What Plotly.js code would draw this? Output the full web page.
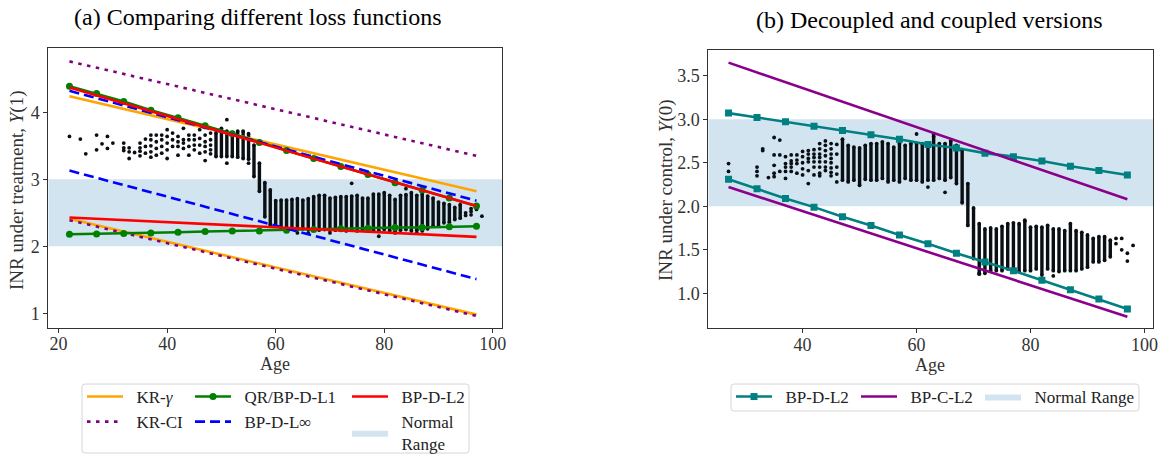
<!DOCTYPE html>
<html>
<head>
<meta charset="utf-8">
<script src="https://cdn.plot.ly/plotly-3.0.1.min.js"></script>
<style>html,body{margin:0;padding:0;background:#fff;}#chart{width:1170px;height:455px;}</style>
</head>
<body>
<div id="chart"></div>
<script>
// ---------------- DATA ----------------
// Panel (a): INR under treatment, Y(1)
const AGE_A = [22, 97];
const KRG_HI = [4.24, 2.82];
const KRG_LO = [2.41, 0.98];
const KRCI_HI = [4.76, 3.35];
const KRCI_LO = [2.39, 0.96];
const LINF_HI = [4.32, 2.68];
const LINF_LO = [3.13, 1.51];
const L2_HI = [4.37, 2.60];
const L2_LO = [2.43, 2.14];
const AGE_QR = [22, 27, 32, 37, 42, 47, 52, 57, 62, 67, 72, 77, 82, 87, 92, 97];
const QR_HI = [4.39, 4.28, 4.16, 4.03, 3.92, 3.80, 3.68, 3.55, 3.43, 3.31, 3.19, 3.07, 2.95, 2.84, 2.72, 2.60];
const QR_LO = [2.18, 2.185, 2.19, 2.20, 2.21, 2.22, 2.23, 2.23, 2.24, 2.25, 2.26, 2.27, 2.28, 2.28, 2.29, 2.30];

// Panel (a) observations: dense columns (age, low, high) and single points
const DENSE_A_AGE = [49,50,51,52,53,54,55,56,57,58,59,60,61,62,63,64,65,66,67,68,69,70,71,72,73,74,75,76,77,78,79,80,81,82,83,84,85,86,87,88,89,90,91,92,93,94];
const DENSE_A_LO = [3.34,3.34,3.34,3.34,3.33,3.31,3.30,3.04,2.82,2.44,2.32,2.30,2.28,2.27,2.26,2.25,2.26,2.25,2.24,2.24,2.25,2.24,2.24,2.24,2.23,2.24,2.23,2.24,2.23,2.24,2.23,2.25,2.23,2.22,2.24,2.25,2.23,2.24,2.23,2.26,2.30,2.30,2.35,2.36,2.40,2.42];
const DENSE_A_HI = [3.69,3.76,3.72,3.70,3.72,3.72,3.68,3.51,3.24,2.95,2.84,2.68,2.69,2.69,2.70,2.71,2.69,2.71,2.74,2.76,2.76,2.72,2.73,2.74,2.74,2.75,2.76,2.72,2.72,2.78,2.78,2.80,2.76,2.70,2.76,2.77,2.80,2.76,2.78,2.75,2.72,2.66,2.64,2.62,2.58,2.62];
const PTS_A_AGE = [22,24,25,27,27,28,29,29,30,32,32,32,33,33,33,34,35,35,35,35,36,36,36,37,37,37,37,37,38,38,38,38,39,39,39,39,40,40,40,40,40,41,41,41,42,42,42,42,43,43,43,43,44,44,44,44,45,45,45,45,46,46,46,46,47,47,47,47,47,48,48,48,48,48,51,51,55,74,84,79,64,66,70,82,86,95,95,96,96,96,97,98];
const PTS_A_INR = [3.64,3.60,3.38,3.66,3.44,3.53,3.64,3.46,3.54,3.54,3.47,3.43,3.47,3.41,3.31,3.40,3.54,3.47,3.42,3.35,3.60,3.49,3.39,3.66,3.59,3.50,3.41,3.33,3.66,3.56,3.46,3.36,3.66,3.59,3.49,3.39,3.74,3.64,3.54,3.44,3.31,3.69,3.59,3.49,3.64,3.56,3.49,3.36,3.76,3.59,3.54,3.46,3.66,3.59,3.49,3.36,3.66,3.59,3.51,3.44,3.74,3.61,3.51,3.39,3.66,3.56,3.49,3.41,3.28,3.69,3.59,3.51,3.44,3.38,3.89,3.24,3.24,2.94,2.86,2.15,2.20,2.20,2.20,2.20,2.20,2.46,2.50,2.47,2.52,2.56,2.55,2.45];

// Panel (b): INR under control, Y(0)
const AGE_B5 = [27, 32, 37, 42, 47, 52, 57, 62, 67, 72, 77, 82, 87, 92, 97];
const DL2_HI = [3.07, 3.02, 2.97, 2.92, 2.87, 2.82, 2.77, 2.71, 2.67, 2.61, 2.57, 2.52, 2.46, 2.41, 2.36];
const DL2_LO = [2.31, 2.20, 2.09, 1.99, 1.88, 1.78, 1.67, 1.57, 1.46, 1.36, 1.26, 1.15, 1.04, 0.935, 0.82];
const AGE_B = [27, 97];
const CL2_HI = [3.65, 2.08];
const CL2_LO = [2.22, 0.73];

const DENSE_B_AGE = [47,48,49,50,51,52,53,54,55,56,57,58,59,60,61,62,63,64,65,66,67,68,69,70,71,72,73,74,75,76,77,78,79,80,81,82,83,84,85,86,87,88,89,90,91,92,93,94];
const DENSE_B_LO = [2.30,2.28,2.30,2.24,2.31,2.30,2.30,2.32,2.28,2.30,2.28,2.32,2.30,2.30,2.28,2.30,2.30,2.32,2.30,2.33,2.26,2.04,1.78,1.40,1.23,1.25,1.26,1.26,1.26,1.28,1.25,1.25,1.26,1.26,1.28,1.21,1.28,1.26,1.25,1.26,1.26,1.26,1.28,1.30,1.36,1.36,1.38,1.42];
const DENSE_B_HI = [2.77,2.70,2.68,2.67,2.70,2.72,2.72,2.74,2.72,2.68,2.72,2.70,2.72,2.72,2.72,2.72,2.80,2.72,2.72,2.75,2.70,2.65,2.26,1.98,1.80,1.74,1.75,1.74,1.77,1.80,1.81,1.80,1.83,1.76,1.77,1.76,1.78,1.74,1.74,1.72,1.80,1.72,1.70,1.67,1.63,1.65,1.65,1.61];
const PTS_B_AGE = [27,27,32,32,32,33,33,34,35,35,35,35,35,36,36,36,37,37,37,37,37,38,38,38,38,38,39,39,39,39,40,40,40,40,40,41,41,41,41,41,41,42,42,42,42,42,42,43,43,43,43,43,43,43,43,44,44,44,44,44,44,44,45,45,45,45,45,45,45,45,46,46,46,46,46,60,62,65,63,71,72,84,79,95,95,96,96,97,97,98];
const PTS_B_INR = [2.49,2.40,2.45,2.40,2.35,2.66,2.64,2.33,2.79,2.59,2.47,2.38,2.34,2.76,2.59,2.40,2.57,2.49,2.45,2.40,2.32,2.59,2.52,2.49,2.45,2.40,2.59,2.53,2.49,2.38,2.63,2.57,2.50,2.43,2.36,2.64,2.60,2.55,2.51,2.41,2.26,2.65,2.60,2.56,2.51,2.45,2.36,2.72,2.66,2.60,2.56,2.51,2.45,2.38,2.35,2.75,2.70,2.64,2.58,2.51,2.45,2.41,2.72,2.66,2.60,2.55,2.50,2.44,2.39,2.35,2.71,2.60,2.45,2.37,2.28,2.83,2.22,2.16,2.82,1.22,1.23,1.20,1.84,1.63,1.57,1.63,1.50,1.46,1.37,1.55];

const NORMAL_RANGE = [2, 3];
const XRANGE_A = [18.1, 101.7];
const YRANGE_A = [0.785, 4.955];
const XRANGE_B = [23.45, 101.55];
const YRANGE_B = [0.598, 3.795];

// ---------------- STYLE ----------------
const FONT = 'Liberation Serif, Times New Roman, serif';
const BAND = 'rgba(31,119,180,0.2)';
const DOTC = '#0a0f14';
const LW = 2.6;
const SP = '\u2002';

function columns(ages, lo, hi) {
  const x = [], y = [];
  for (let i = 0; i < ages.length; i++) {
    x.push(ages[i], ages[i], null);
    y.push(lo[i], hi[i], null);
  }
  return {x, y};
}
function band(xr, xa, ya, name, legend) {
  return {x: [xr[0], xr[1], xr[1], xr[0]], y: [NORMAL_RANGE[0], NORMAL_RANGE[0], NORMAL_RANGE[1], NORMAL_RANGE[1]],
    xaxis: xa, yaxis: ya, mode: 'lines', fill: 'toself', fillcolor: BAND, line: {width: 0, color: BAND},
    name, legend, showlegend: true, legendrank: 2000, hoverinfo: 'skip'};
}
function ln(x, y, color, dash, name, legend, show, xa, ya, extra) {
  return Object.assign({x, y, xaxis: xa, yaxis: ya, mode: 'lines', name, legend, showlegend: show, legendrank: 1000,
    line: {color, width: LW, dash}}, extra || {});
}

const colA = columns(DENSE_A_AGE, DENSE_A_LO, DENSE_A_HI);
const colB = columns(DENSE_B_AGE, DENSE_B_LO, DENSE_B_HI);

const traces = [
  band(XRANGE_A, 'x', 'y', SP + 'Normal<br>' + SP + 'Range', 'legend3'),
  band(XRANGE_B, 'x2', 'y2', SP + 'Normal Range', 'legend6'),
  // observations
  {x: colA.x, y: colA.y, xaxis: 'x', yaxis: 'y', mode: 'lines+markers', line: {color: DOTC, width: 3.4},
   marker: {color: DOTC, size: 3.8}, showlegend: false, hoverinfo: 'skip'},
  {x: PTS_A_AGE, y: PTS_A_INR, xaxis: 'x', yaxis: 'y', mode: 'markers', marker: {color: DOTC, size: 3.8}, showlegend: false},
  {x: colB.x, y: colB.y, xaxis: 'x2', yaxis: 'y2', mode: 'lines+markers', line: {color: DOTC, width: 3.4},
   marker: {color: DOTC, size: 3.8}, showlegend: false, hoverinfo: 'skip'},
  {x: PTS_B_AGE, y: PTS_B_INR, xaxis: 'x2', yaxis: 'y2', mode: 'markers', marker: {color: DOTC, size: 3.8}, showlegend: false},
  // panel (a) lines
  ln(AGE_A, KRG_HI, '#ffa500', 'solid', SP + 'KR-<i>γ</i>', 'legend', true, 'x', 'y'),
  ln(AGE_A, KRG_LO, '#ffa500', 'solid', SP + 'KR-<i>γ</i>', 'legend', false, 'x', 'y'),
  ln(AGE_A, KRCI_HI, '#800080', '3.5px,5.5px', SP + 'KR-CI', 'legend', true, 'x', 'y'),
  ln(AGE_A, KRCI_LO, '#800080', '3.5px,5.5px', SP + 'KR-CI', 'legend', false, 'x', 'y'),
  ln(AGE_QR, QR_HI, '#008000', 'solid', SP + 'QR/BP-D-L1', 'legend2', true, 'x', 'y', {mode: 'lines+markers', marker: {size: 7, color: '#008000'}}),
  ln(AGE_QR, QR_LO, '#008000', 'solid', SP + 'QR/BP-D-L1', 'legend2', false, 'x', 'y', {mode: 'lines+markers', marker: {size: 7, color: '#008000'}}),
  ln(AGE_A, LINF_HI, '#0000ff', '10px,5px', SP + 'BP-D-L∞', 'legend2', true, 'x', 'y'),
  ln(AGE_A, LINF_LO, '#0000ff', '10px,5px', SP + 'BP-D-L∞', 'legend2', false, 'x', 'y'),
  ln(AGE_A, L2_HI, '#ff0000', 'solid', SP + 'BP-D-L2', 'legend3', true, 'x', 'y'),
  ln(AGE_A, L2_LO, '#ff0000', 'solid', SP + 'BP-D-L2', 'legend3', false, 'x', 'y'),
  // panel (b) lines
  ln(AGE_B5, DL2_HI, '#008080', 'solid', SP + 'BP-D-L2', 'legend4', true, 'x2', 'y2', {mode: 'lines+markers', marker: {size: 7, symbol: 'square', color: '#008080'}}),
  ln(AGE_B5, DL2_LO, '#008080', 'solid', SP + 'BP-D-L2', 'legend4', false, 'x2', 'y2', {mode: 'lines+markers', marker: {size: 7, symbol: 'square', color: '#008080'}}),
  ln(AGE_B, CL2_HI, '#8b008b', 'solid', SP + 'BP-C-L2', 'legend5', true, 'x2', 'y2'),
  ln(AGE_B, CL2_LO, '#8b008b', 'solid', SP + 'BP-C-L2', 'legend5', false, 'x2', 'y2')
];

const W = 1170, H = 455;
function px(x) { return x / W; }
function py(y) { return 1 - y / H; }
function roundRect(x0, y0, x1, y1, r) {
  const rx = r / W, ry = r / H;
  const X0 = px(x0), X1 = px(x1), Y0 = py(y0), Y1 = py(y1);
  return 'M' + (X0 + rx) + ',' + Y0 + ' L' + (X1 - rx) + ',' + Y0 + ' Q' + X1 + ',' + Y0 + ' ' + X1 + ',' + (Y0 - ry) +
    ' L' + X1 + ',' + (Y1 + ry) + ' Q' + X1 + ',' + Y1 + ' ' + (X1 - rx) + ',' + Y1 +
    ' L' + (X0 + rx) + ',' + Y1 + ' Q' + X0 + ',' + Y1 + ' ' + X0 + ',' + (Y1 + ry) +
    ' L' + X0 + ',' + (Y0 - ry) + ' Q' + X0 + ',' + Y0 + ' ' + (X0 + rx) + ',' + Y0 + ' Z';
}

const axisCommon = {showline: true, mirror: true, linecolor: '#333', linewidth: 1, ticks: 'outside', ticklen: 4,
  tickcolor: '#333', tickwidth: 1, showgrid: false, zeroline: false, tickfont: {family: FONT, size: 18, color: '#333'}};
const legCommon = {visible: true, orientation: 'v', xanchor: 'left', yanchor: 'top', bgcolor: 'rgba(0,0,0,0)', borderwidth: 0,
  font: {family: FONT, size: 17, color: '#222'}, itemwidth: 36, tracegroupgap: 0, traceorder: 'normal', y: py(379)};
const TF = {family: FONT, size: 18, color: '#333'};
const TFY = {family: FONT, size: 19, color: '#333'};

const layout = {
  width: W, height: H, margin: {l: 0, r: 0, t: 0, b: 0, autoexpand: false}, paper_bgcolor: '#fff', plot_bgcolor: '#fff',
  font: {family: FONT, size: 17, color: '#333'},
  showlegend: true,
  hovermode: false,
  xaxis: Object.assign({}, axisCommon, {domain: [px(48.3), px(502)], range: XRANGE_A, tickvals: [20, 40, 60, 80, 100], anchor: 'y', ticklabelstandoff: -4}),
  yaxis: Object.assign({}, axisCommon, {domain: [py(327.7), py(48.3)], range: YRANGE_A, tickvals: [1, 2, 3, 4], anchor: 'x'}),
  xaxis2: Object.assign({}, axisCommon, {domain: [px(708.3), px(1153.3)], range: XRANGE_B, tickvals: [40, 60, 80, 100], anchor: 'y2', ticklabelstandoff: -4}),
  yaxis2: Object.assign({}, axisCommon, {domain: [py(328.3), py(50)], range: YRANGE_B, tickvals: [1, 1.5, 2, 2.5, 3, 3.5], tickformat: '.1f', anchor: 'x2'}),
  legend: Object.assign({}, legCommon, {x: px(82)}),
  legend2: Object.assign({}, legCommon, {x: px(190)}),
  legend3: Object.assign({}, legCommon, {x: px(347)}),
  legend4: Object.assign({}, legCommon, {x: px(731)}),
  legend5: Object.assign({}, legCommon, {x: px(856)}),
  legend6: Object.assign({}, legCommon, {x: px(980)}),
  annotations: [
    {text: '(a) Comparing different loss functions', xref: 'paper', yref: 'paper', x: px(257), y: py(17), xanchor: 'center', yanchor: 'middle',
     showarrow: false, font: {family: FONT, size: 24, color: '#000'}},
    {text: '(b) Decoupled and coupled versions', xref: 'paper', yref: 'paper', x: px(929), y: py(20), xanchor: 'center', yanchor: 'middle',
     showarrow: false, font: {family: FONT, size: 24, color: '#000'}},
    {text: 'Age', xref: 'paper', yref: 'paper', x: px(275), y: py(364), xanchor: 'center', yanchor: 'middle', showarrow: false, font: TF},
    {text: 'Age', xref: 'paper', yref: 'paper', x: px(930), y: py(365), xanchor: 'center', yanchor: 'middle', showarrow: false, font: TF},
    {text: 'INR under treatment, <i>Y</i>(1)', xref: 'paper', yref: 'paper', x: px(17), y: py(191), xanchor: 'center', yanchor: 'middle',
     textangle: -90, showarrow: false, font: TFY},
    {text: 'INR under control, <i>Y</i>(0)', xref: 'paper', yref: 'paper', x: px(666), y: py(190), xanchor: 'center', yanchor: 'middle',
     textangle: -90, showarrow: false, font: TFY}
  ],
  shapes: [
    {type: 'path', xref: 'paper', yref: 'paper', path: roundRect(82, 384, 469, 453, 3), line: {color: '#d6d6d6', width: 1}, fillcolor: 'rgba(0,0,0,0)'},
    {type: 'path', xref: 'paper', yref: 'paper', path: roundRect(731, 384, 1139, 411, 3), line: {color: '#d6d6d6', width: 1}, fillcolor: 'rgba(0,0,0,0)'}
  ]
};

Plotly.newPlot('chart', traces, layout, {displayModeBar: false});
</script>
</body>
</html>
